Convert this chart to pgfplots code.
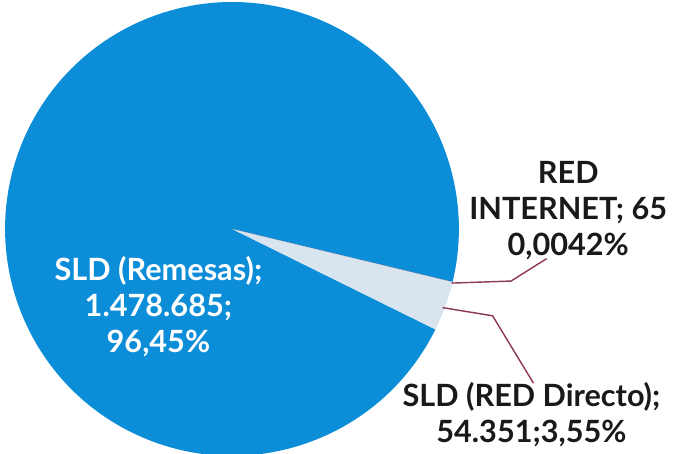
\documentclass[border=0pt]{standalone}
\usepackage{fontspec}
\setmainfont{Lato}
\usepackage{pgfplots}
\usepackage{pgfplotstable}
\pgfplotsset{compat=1.18}
\definecolor{pieblue}{HTML}{0C8DD8}
\definecolor{pielight}{HTML}{D8E5EE}
\definecolor{leader}{HTML}{8E3A5A}

% share of each slice, in percent
\pgfplotstableread{
name      value    pct
Internet  65       0.0042
Directo   54351    3.55
Remesas   1478685  96.45
}\piedata

\begin{document}
\begin{tikzpicture}
\pgfplotstablegetelem{0}{pct}\of\piedata \let\pInt\pgfplotsretval
\pgfplotstablegetelem{1}{pct}\of\piedata \let\pDir\pgfplotsretval
\pgfplotstablegetelem{2}{pct}\of\piedata \let\pRem\pgfplotsretval
\pgfmathsetmacro\aA{-13.5}
\pgfmathsetmacro\aB{\aA-3.6*\pInt}
\pgfmathsetmacro\aC{\aB-3.6*\pDir}
\pgfmathsetmacro\aD{\aC-3.6*\pRem}
\begin{axis}[
  width=337pt, height=222pt, scale only axis,
  xmin=0, xmax=674, ymin=0, ymax=444,
  hide axis, clip=true,
]
\fill[pieblue] (axis cs:227,220) -- ++(\aC:111pt) arc[start angle=\aC, end angle=\aD, radius=111pt] -- cycle;
\fill[pielight] (axis cs:227,220) -- ++(\aB:111pt) arc[start angle=\aB, end angle=\aC, radius=111pt] -- cycle;
\fill[leader] (axis cs:227,220) -- ++(\aA:111pt) arc[start angle=\aA, end angle=\aB, radius=111pt] -- cycle;

\addplot[leader, line width=0.7pt] coordinates {(442,167) (500,169) (535,191)};
\addplot[leader, line width=0.7pt] coordinates {(433,143) (482,135) (522,69)};

\node[align=center, text=white, font=\bfseries\fontsize{15}{17.5}\selectfont] at (axis cs:155,144)
  {SLD (Remesas);\\1.478.685;\\96,45\%};
\node[align=center, text=black!90, font=\bfseries\fontsize{15}{17.5}\selectfont] at (axis cs:556,238)
  {RED\\INTERNET; 65\\0,0042\%};
\node[align=center, text=black!90, font=\bfseries\fontsize{15}{17.5}\selectfont] at (axis cs:520,38)
  {SLD (RED Directo);\\54.351;3,55\%};
\end{axis}
\end{tikzpicture}
\end{document}
